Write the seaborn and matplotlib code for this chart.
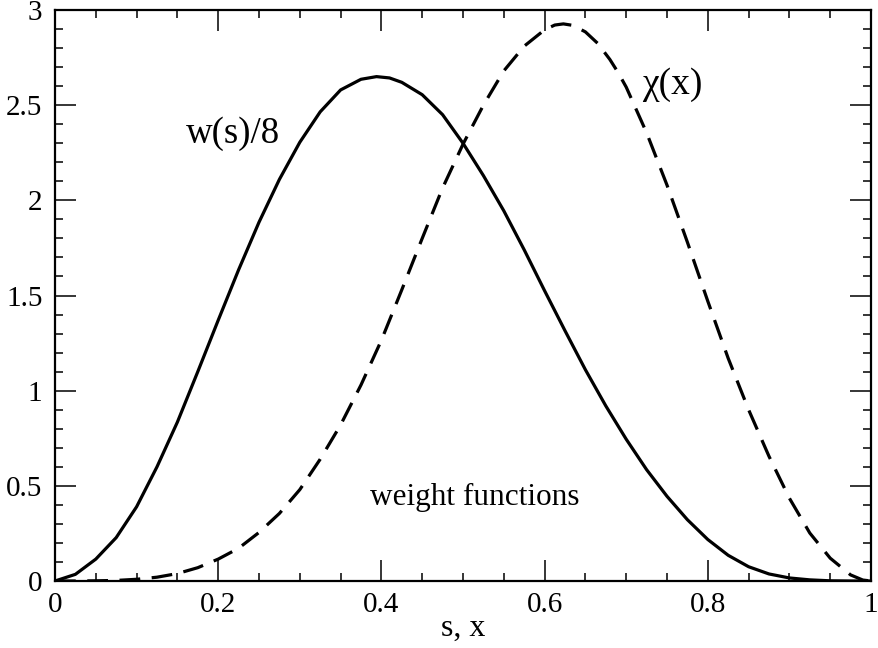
import matplotlib
matplotlib.use("Agg")
import matplotlib.pyplot as plt
from matplotlib.ticker import MultipleLocator
import seaborn as sns
import pandas as pd

# w(s)/8 curve (solid)
s_vals = [0.0, 0.025, 0.05, 0.075, 0.1, 0.125, 0.15, 0.175, 0.2, 0.225,
          0.25, 0.275, 0.3, 0.325, 0.35, 0.375, 0.394, 0.41, 0.425, 0.45,
          0.475, 0.5, 0.525, 0.55, 0.575, 0.6, 0.625, 0.65, 0.675, 0.7,
          0.725, 0.75, 0.775, 0.8, 0.825, 0.85, 0.875, 0.9, 0.925, 0.95,
          0.975, 1.0]
w8_vals = [0.0, 0.035, 0.115, 0.228, 0.39, 0.60, 0.835, 1.10, 1.37, 1.635,
           1.885, 2.11, 2.305, 2.465, 2.58, 2.636, 2.65, 2.643, 2.62, 2.555,
           2.45, 2.30, 2.13, 1.945, 1.74, 1.525, 1.315, 1.11, 0.92, 0.745,
           0.585, 0.445, 0.322, 0.218, 0.135, 0.075, 0.037, 0.016, 0.006, 0.001,
           0.0, 0.0]

# chi(x) curve (dashed)
x_vals = [0.0, 0.025, 0.05, 0.075, 0.1, 0.125, 0.15, 0.175, 0.2, 0.225,
          0.25, 0.275, 0.3, 0.325, 0.35, 0.375, 0.4, 0.425, 0.45, 0.475,
          0.5, 0.525, 0.55, 0.575, 0.6, 0.6125, 0.623, 0.635, 0.65, 0.665,
          0.68, 0.69, 0.7, 0.725, 0.75, 0.775, 0.8, 0.825, 0.85, 0.875,
          0.9, 0.925, 0.95, 0.975, 0.99, 1.0]
chi_vals = [0.0, 0.0, 0.001, 0.003, 0.009, 0.020, 0.039, 0.070, 0.115, 0.172,
            0.255, 0.355, 0.48, 0.64, 0.82, 1.03, 1.265, 1.53, 1.80, 2.065,
            2.295, 2.50, 2.68, 2.81, 2.896, 2.921, 2.927, 2.919, 2.885, 2.825,
            2.74, 2.672, 2.595, 2.355, 2.08, 1.78, 1.47, 1.17, 0.90, 0.655,
            0.435, 0.252, 0.12, 0.032, 0.005, 0.0]

x_ticks = [0, 0.2, 0.4, 0.6, 0.8, 1]
x_tick_labels = ["0", "0.2", "0.4", "0.6", "0.8", "1"]
y_ticks = [0, 0.5, 1, 1.5, 2, 2.5, 3]
y_tick_labels = ["0", "0.5", "1", "1.5", "2", "2.5", "3"]

sns.set_theme(style="ticks")
plt.rcParams["font.family"] = ["Liberation Serif", "DejaVu Serif"]

fig = plt.figure(figsize=(8.79, 6.48), dpi=100)
ax = fig.add_axes([55 / 879, 1 - 581 / 648, 816 / 879, 571 / 648])

df_w = pd.DataFrame({"s": s_vals, "w": w8_vals})
df_c = pd.DataFrame({"x": x_vals, "chi": chi_vals})

sns.lineplot(data=df_w, x="s", y="w", color="black", lw=2.3, ax=ax, sort=False)
sns.lineplot(data=df_c, x="x", y="chi", color="black", lw=2.3, ax=ax, sort=False)
for ln in ax.lines:
    ln.set_solid_joinstyle("round")
    ln.set_dash_joinstyle("round")
ax.lines[1].set_dashes((6.5, 3.6))

ax.set_xlim(0, 1)
ax.set_ylim(0, 3)
ax.set_xticks(x_ticks)
ax.set_xticklabels(x_tick_labels)
ax.set_yticks(y_ticks)
ax.set_yticklabels(y_tick_labels)
ax.xaxis.set_minor_locator(MultipleLocator(0.05))
ax.yaxis.set_minor_locator(MultipleLocator(0.1))

ax.tick_params(which="both", direction="in", top=True, right=True, color="black",
               labelcolor="black", labelsize=21)
ax.tick_params(which="major", length=15, width=1.1)
ax.tick_params(which="minor", length=6, width=1.1)
ax.tick_params(axis="x", which="major", pad=8)
ax.tick_params(axis="y", which="major", pad=9)
for sp in ax.spines.values():
    sp.set_visible(True)
    sp.set_linewidth(1.6)
    sp.set_color("black")

ax.set_xlabel("s, x", fontsize=23, color="black", labelpad=-3)
ax.set_ylabel("")

ax.text(0.16, 2.30, "w(s)/8", fontsize=26.5, color="black", ha="left", va="baseline")
ax.text(0.719, 2.56, "χ(x)", fontsize=27, color="black", ha="left", va="baseline")
ax.text(0.386, 0.40, "weight functions", fontsize=22.5, color="black", ha="left", va="baseline")

fig.savefig("out.png", dpi=100)
